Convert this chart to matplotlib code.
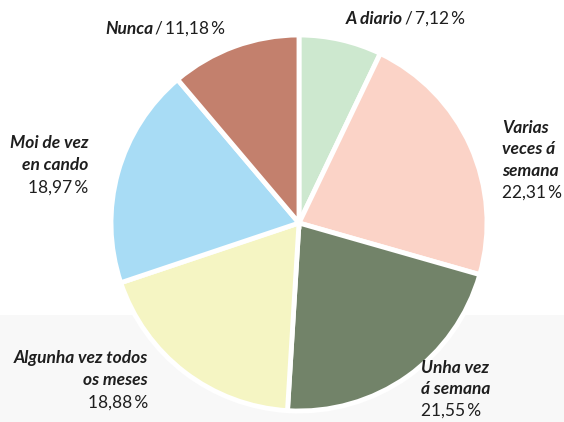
import matplotlib
matplotlib.use("Agg")
import matplotlib.pyplot as plt
from matplotlib.patches import Rectangle

categories = ["A diario", "Varias veces á semana", "Unha vez á semana",
              "Algunha vez todos os meses", "Moi de vez en cando", "Nunca"]
values = [7.12, 22.31, 21.55, 18.88, 18.97, 11.18]
value_labels = ["7,12\u2009%", "22,31\u2009%", "21,55\u2009%", "18,88\u2009%",
                "18,97\u2009%", "11,18\u2009%"]
colors = ["#cde8cf", "#fbd3c7", "#728369", "#f5f5c3", "#a8dcf5", "#c3806d"]

W, H = 564, 422
fig = plt.figure(figsize=(W / 100, H / 100), dpi=100)
fig.patch.set_facecolor("white")

# light grey band at the bottom
fig.patches.append(Rectangle((0, 0), 1, (H - 315) / H, transform=fig.transFigure,
                             facecolor="#f8f8f8", edgecolor="none", zorder=-5))

cx, cy, r = 299, 223, 188
ax = fig.add_axes([(cx - r) / W, (H - cy - r) / H, 2 * r / W, 2 * r / H])
ax.set_zorder(1)
ax.patch.set_visible(False)
ax.pie(values, colors=colors, startangle=90, counterclock=False,
       wedgeprops=dict(edgecolor="white", linewidth=3.5))
ax.set_xlim(-1.0, 1.0)
ax.set_ylim(-1.0, 1.0)
ax.set_aspect("equal")
ax.axis("off")

FAM = ["Lato", "DejaVu Sans"]
FS = 12.5
TC = "#1e1e1e"


def px(x, y):
    return x / W, 1 - y / H


def bold(x, y, s, ha):
    fig.text(*px(x, y), s, ha=ha, va="center", fontsize=FS, fontweight="bold",
             fontstyle="italic", family=FAM, color=TC, zorder=3)


def reg(x, y, s, ha):
    fig.text(*px(x, y), s, ha=ha, va="center", fontsize=FS, family=FAM, color=TC,
             zorder=3)


# A diario
bold(403, 19, categories[0], "right")
reg(405, 19, "/\u2009" + value_labels[0], "left")
# Nunca
bold(153, 29, categories[5], "right")
reg(155, 29, "/\u2009" + value_labels[5], "left")
# Varias veces á semana
for i, s in enumerate(["Varias", "veces á", "semana"]):
    bold(502, 128 + 21.5 * i, s, "left")
reg(502, 193, value_labels[1], "left")
# Unha vez á semana
for i, s in enumerate(["Unha vez", "á semana"]):
    bold(421, 368 + 21.5 * i, s, "left")
reg(421, 411, value_labels[2], "left")
# Algunha vez todos os meses
for i, s in enumerate(["Algunha vez todos", "os meses"]):
    bold(148, 358 + 22 * i, s, "right")
reg(148, 403, value_labels[3], "right")
# Moi de vez en cando
for i, s in enumerate(["Moi de vez", "en cando"]):
    bold(88, 143 + 22 * i, s, "right")
reg(88, 188, value_labels[4], "right")

fig.savefig("out.png", dpi=100)
